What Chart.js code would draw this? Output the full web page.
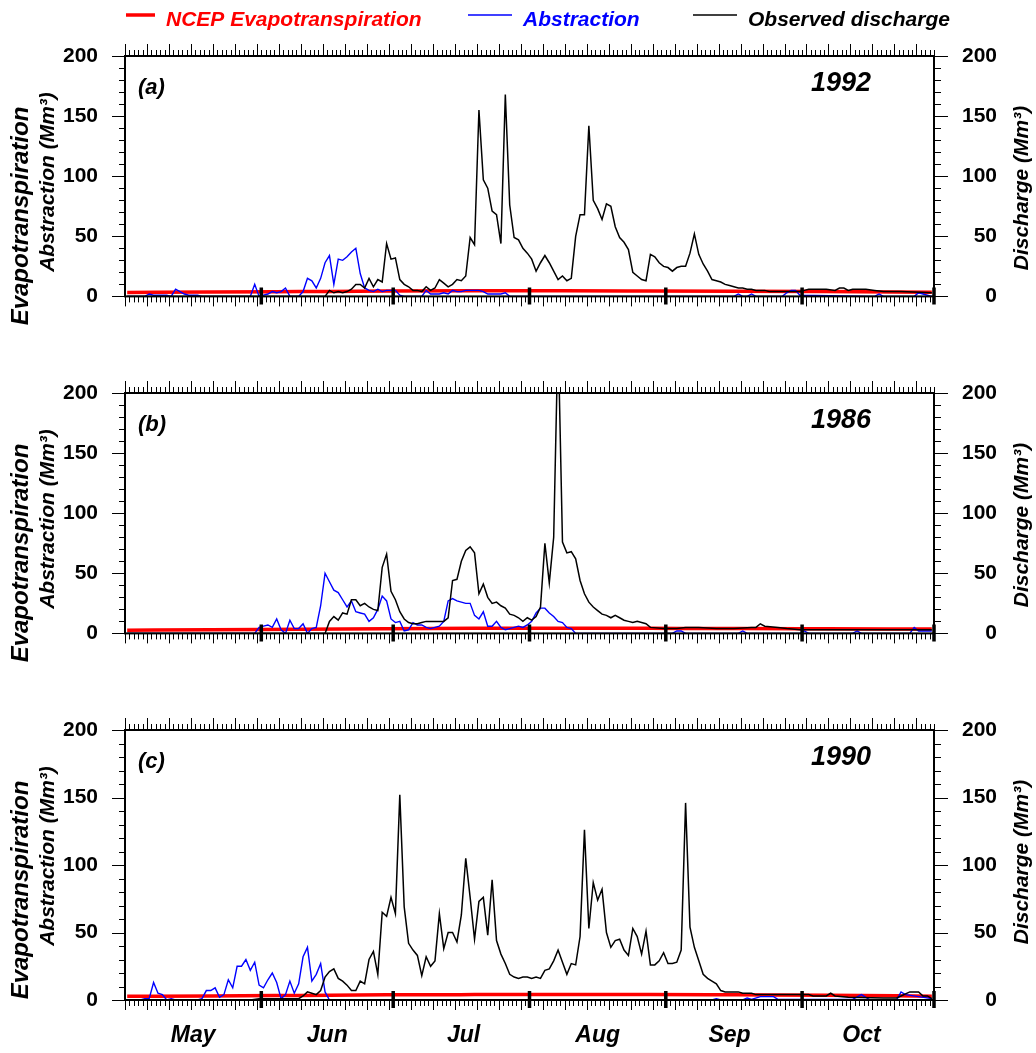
<!doctype html>
<html lang="en">
<head>
<meta charset="utf-8">
<title>Evapotranspiration, abstraction and observed discharge</title>
<style>
  body { margin: 0; background: #fff; }
  #page { position: relative; width: 1036px; height: 1053px; }
  #page canvas { position: absolute; left: 0; }
</style>
</head>
<body>
<div id="page">
  <canvas id="chartA" width="1036" height="337" style="top:0"></canvas>
  <canvas id="chartB" width="1036" height="337" style="top:337px"></canvas>
  <canvas id="chartC" width="1036" height="379" style="top:674px"></canvas>
</div>

<script src="https://cdn.jsdelivr.net/npm/chart.js@4.4.0/dist/chart.umd.min.js"></script>
<script>
// day 1 = 1 May, day 184 = 31 Oct
const monthNames = ['May', 'Jun', 'Jul', 'Aug', 'Sep', 'Oct'];
const monthLabelDays = [16, 46.5, 77.5, 108, 138, 168];
const monthEdgeDays = [31.5, 61.5, 92.5, 123.5, 154.5, 184.5];

// NCEP evapotranspiration (Mm3), read at a few days
const etDays = [1, 20, 40, 60, 80, 100, 120, 140, 160, 184];
const et1992 = [3.3, 3.6, 4.0, 4.4, 4.6, 4.6, 4.5, 4.3, 4.0, 3.4];
const et1986 = [2.7, 3.0, 3.5, 3.9, 4.2, 4.3, 4.2, 4.1, 3.9, 3.6];
const et1990 = [2.7, 3.0, 3.4, 3.8, 4.0, 4.1, 4.0, 3.8, 3.6, 2.8];

// [day, value] pairs
const abs1992 = [[1,0],[5,0],[6,2],[7,1],[10,1],[11,0],[12,6],[13,4],[14,2],[15,1],[17,1],[18,0],[29,0],[30,10],[31,0],[32,1],[33,2],[34,4],[35,3],[36,4],[37,7],[38,0],[40,0],[41,4],[42,15],[43,13],[44,7],[45,15],[46,28],[47,34],[48,10],[49,31],[50,30],[51,33],[52,37],[53,40],[54,19],[55,7],[56,5],[57,4],[58,6],[59,4],[60,5],[61,5],[62,5],[63,1],[64,0],[68,0],[69,5],[70,2],[71,2],[72,2],[73,3],[74,2],[75,5],[76,4],[77,4],[78,5],[79,5],[80,5],[81,5],[82,4],[83,2],[84,2],[85,2],[86,2],[87,3],[88,0],[139,0],[140,2],[141,0],[142,0],[143,2],[144,0],[150,0],[151,3],[152,5],[153,5],[154,1],[171,0],[172,2],[173,0],[180,0],[181,3],[182,2],[184,0]];
const flow1992 = [[1,0],[46,0],[47,5],[48,3],[49,4],[50,3],[51,4],[52,6],[53,10],[54,10],[55,7],[56,15],[57,8],[58,14],[59,12],[60,44],[61,31],[62,32],[63,14],[64,10],[65,8],[66,5],[67,5],[68,4],[69,8],[70,5],[71,7],[72,14],[73,11],[74,8],[75,10],[76,14],[77,13],[78,17],[79,49],[80,43],[81,155],[82,97],[83,90],[84,71],[85,68],[86,44],[87,168],[88,76],[89,49],[90,47],[91,40],[92,36],[93,31],[94,21],[95,28],[96,34],[97,28],[98,21],[99,14],[100,17],[101,13],[102,15],[103,50],[104,68],[105,68],[106,142],[107,80],[108,73],[109,64],[110,77],[111,75],[112,58],[113,49],[114,45],[115,39],[116,20],[117,17],[118,14],[119,13],[120,35],[121,33],[122,28],[123,25],[124,24],[125,21],[126,24],[127,25],[128,25],[129,36],[130,52],[131,35],[132,27],[133,21],[134,14],[135,13],[136,12],[137,10],[138,9],[139,8],[140,7],[141,7],[142,6],[143,6],[144,5],[145,5],[146,5],[147,4],[150,4],[154,4],[155,5],[156,6],[160,6],[162,5],[163,7],[164,7],[165,5],[166,6],[169,6],[171,5],[173,4],[177,4],[184,3]];

const abs1986 = [[1,0],[30,0],[31,5],[32,6],[33,7],[34,5],[35,12],[36,3],[37,0],[38,11],[39,4],[40,4],[41,8],[42,0],[43,4],[44,5],[45,23],[46,50],[47,43],[48,36],[49,34],[50,28],[51,22],[52,27],[53,18],[54,17],[55,16],[56,10],[57,13],[58,20],[59,31],[60,27],[61,12],[62,9],[63,10],[64,2],[65,3],[66,9],[67,7],[68,7],[69,5],[70,4],[71,5],[72,6],[73,10],[74,27],[75,29],[76,27],[77,26],[78,25],[79,25],[80,15],[81,12],[82,18],[83,6],[84,6],[85,10],[86,5],[87,3],[88,4],[89,5],[90,6],[91,5],[92,7],[93,10],[94,17],[95,21],[96,21],[97,17],[98,14],[99,10],[100,9],[101,5],[102,4],[103,0],[125,0],[126,2],[127,2],[128,0],[140,0],[141,2],[142,0],[154,0],[155,2],[156,0],[166,0],[167,2],[168,0],[179,0],[180,5],[181,2],[184,2]];
const flow1986 = [[1,0],[46,0],[47,10],[48,14],[49,11],[50,17],[51,16],[52,28],[53,28],[54,23],[55,25],[56,22],[57,20],[58,19],[59,55],[60,66],[61,35],[62,28],[63,18],[64,12],[65,9],[66,8],[67,8],[68,9],[69,10],[70,10],[71,10],[72,10],[73,10],[74,13],[75,44],[76,45],[77,60],[78,69],[79,72],[80,67],[81,33],[82,41],[83,30],[84,25],[85,26],[86,23],[87,21],[88,16],[89,15],[90,13],[91,10],[92,13],[93,11],[94,14],[95,22],[96,75],[97,42],[98,80],[99,250],[100,76],[101,67],[102,68],[103,62],[104,44],[105,33],[106,26],[107,22],[108,19],[109,16],[110,15],[111,13],[112,15],[113,13],[114,11],[115,10],[116,9],[117,10],[118,9],[119,8],[120,5],[123,4],[126,4],[128,5],[131,5],[135,4],[139,4],[143,5],[144,5],[145,8],[146,6],[149,5],[151,4],[154,3],[184,3]];

const abs1990 = [[1,0],[4,0],[5,1],[6,1],[7,13],[8,5],[9,4],[10,0],[11,1],[12,0],[17,0],[18,1],[19,7],[20,7],[21,9],[22,2],[23,4],[24,15],[25,9],[26,25],[27,25],[28,30],[29,22],[30,28],[31,11],[32,9],[33,15],[34,20],[35,13],[36,1],[37,4],[38,14],[39,5],[40,12],[41,32],[42,39],[43,14],[44,19],[45,27],[46,6],[47,0],[134,0],[135,1],[136,0],[141,0],[142,1.5],[143,0.5],[145,2.5],[148,2.5],[149,0.5],[166,0.5],[168,4],[170,0],[176,0],[177,6],[178,4],[181,2.5],[184,1]];
const flow1990 = [[1,0],[29,0],[31,1],[40,1],[41,3],[42,6],[43,5],[44,4],[45,7],[46,17],[47,21],[48,23],[49,16],[50,14],[51,11],[52,7],[53,7],[54,14],[55,12],[56,30],[57,36],[58,19],[59,65],[60,62],[61,76],[62,64],[63,152],[64,69],[65,42],[66,37],[67,33],[68,18],[69,32],[70,25],[71,29],[72,64],[73,38],[74,50],[75,50],[76,43],[77,63],[78,105],[79,76],[80,45],[81,73],[82,76],[83,48],[84,89],[85,44],[86,34],[87,27],[88,19],[89,17],[90,16],[91,17],[92,17],[93,16],[94,17],[95,16],[96,22],[97,23],[98,29],[99,37],[100,28],[101,19],[102,27],[103,26],[104,47],[105,126],[106,53],[107,87],[108,74],[109,82],[110,50],[111,39],[112,44],[113,45],[114,37],[115,33],[116,53],[117,47],[118,34],[119,51],[120,26],[121,26],[122,29],[123,35],[124,27],[125,27],[126,28],[127,37],[128,146],[129,54],[130,39],[131,29],[132,19],[133,16],[134,14],[135,12],[136,7],[137,6],[140,6],[141,5],[143,5],[144,4],[156,4],[157,3],[160,3],[161,5],[162,3],[165,2],[173,1.5],[176,1.5],[177,3],[179,6],[181,6],[182,3],[183,3],[184,1]];

const FONT = "'Liberation Sans', Arial, Helvetica, sans-serif";
const bi = size => `italic bold ${size}px ${FONT}`;
const toXY = pairs => pairs.map(([x, y]) => ({x, y}));

// axis frame, tick marks, panel texts and the shared legend
const frame = {
  id: 'frame',
  afterDatasetsDraw(chart, args, o) {
    const {ctx, chartArea: a, scales: {x, y}} = chart;
    ctx.save();
    ctx.strokeStyle = '#000';
    ctx.lineWidth = 1;
    ctx.beginPath();
    for (let k = 0; k <= 184; k++) {
      const px = Math.round(x.getPixelForValue(k + 0.5)) + 0.5;
      const big = k % 5 === 0;
      ctx.moveTo(px, a.top); ctx.lineTo(px, a.top - (big ? 12 : 6));
      ctx.moveTo(px, a.bottom); ctx.lineTo(px, a.bottom + (big ? 10 : 6));
    }
    for (let v = 0; v <= 200; v += 10) {
      const py = Math.round(y.getPixelForValue(v)) + 0.5;
      const big = v % 50 === 0;
      ctx.moveTo(a.left, py); ctx.lineTo(a.left - (big ? 13 : 6), py);
      ctx.moveTo(a.right, py); ctx.lineTo(a.right + (big ? 14 : 7), py);
    }
    ctx.stroke();
    ctx.lineWidth = 2;
    ctx.strokeRect(a.left, a.top, a.right - a.left, a.bottom - a.top);
    ctx.lineWidth = 3.5;
    ctx.beginPath();
    monthEdgeDays.forEach(d => {
      const px = x.getPixelForValue(d);
      ctx.moveTo(px, a.bottom - 9); ctx.lineTo(px, a.bottom + 8);
    });
    ctx.stroke();

    ctx.fillStyle = '#000';
    ctx.textBaseline = 'middle';
    ctx.font = bi(22);
    ctx.textAlign = 'left';
    ctx.fillText(o.tag, a.left + 13, a.top + 32);
    ctx.font = bi(27);
    ctx.textAlign = 'right';
    ctx.fillText(o.year, a.right - 63, a.top + 28);

    const vText = (t, cx, cy, size) => {
      ctx.save();
      ctx.translate(cx, cy);
      ctx.rotate(-Math.PI / 2);
      ctx.font = bi(size);
      ctx.textAlign = 'center';
      ctx.fillText(t, 0, 0);
      ctx.restore();
    };
    vText('Evapotranspiration', 21, a.top + 160, 24);
    vText('Abstraction (Mm\u00B3)', 48, a.top + 126, 21);
    vText('Discharge (Mm\u00B3)', 1022, a.top + 132, 21);

    if (o.legend) {
      const items = chart.data.datasets.slice().reverse();
      const lx = [126, 468, 693];
      const len = [29, 44, 44];
      ctx.font = bi(21);
      ctx.textAlign = 'left';
      ctx.textBaseline = 'alphabetic';
      items.forEach((ds, i) => {
        ctx.strokeStyle = ds.borderColor;
        ctx.lineWidth = ds.borderWidth;
        ctx.beginPath();
        ctx.moveTo(lx[i], 15); ctx.lineTo(lx[i] + len[i], 15);
        ctx.stroke();
        ctx.fillStyle = ds.borderColor;
        ctx.fillText(ds.label, lx[i] + len[i] + 11, 26);
      });
    }
    ctx.restore();
  }
};

const panels = [
  {id: 'chartA', tag: '(a)', year: '1992', et: et1992, abs: abs1992, flow: flow1992, legend: true, months: false, axisH: 11},
  {id: 'chartB', tag: '(b)', year: '1986', et: et1986, abs: abs1986, flow: flow1986, legend: false, months: false, axisH: 11},
  {id: 'chartC', tag: '(c)', year: '1990', et: et1990, abs: abs1990, flow: flow1990, legend: false, months: true, axisH: 53}
];

const yTickFont = {family: FONT, size: 21, weight: 'bold'};

panels.forEach(p => {
  new Chart(p.id, {
    type: 'line',
    data: {
      datasets: [
        {label: 'Observed discharge', data: toXY(p.flow), borderColor: '#000000', borderWidth: 1.5, yAxisID: 'y1'},
        {label: 'Abstraction', data: toXY(p.abs), borderColor: '#0000ff', borderWidth: 1.4},
        {label: 'NCEP Evapotranspiration', data: p.et.map((v, i) => ({x: etDays[i], y: v})),
         borderColor: '#ff0000', borderWidth: 3.5, cubicInterpolationMode: 'monotone'}
      ]
    },
    options: {
      responsive: false,
      animation: false,
      elements: {point: {radius: 0}, line: {tension: 0}},
      layout: {padding: {top: 56, left: 0, right: 39, bottom: 0}},
      plugins: {
        legend: {display: false},
        tooltip: {enabled: false},
        frame: {tag: p.tag, year: p.year, legend: p.legend}
      },
      scales: {
        x: {
          type: 'linear', min: 0.5, max: 184.5,
          grid: {display: false, drawTicks: false},
          border: {display: false},
          afterBuildTicks: s => { s.ticks = monthLabelDays.map(v => ({value: v})); },
          afterFit: s => { s.height = p.axisH; },
          ticks: {
            display: p.months, autoSkip: false, maxRotation: 0, padding: 22,
            color: '#000', font: {family: FONT, size: 23, weight: 'bold', style: 'italic'},
            callback: (v, i) => monthNames[i]
          }
        },
        y: {
          position: 'left', min: 0, max: 200,
          grid: {display: false, drawTicks: false},
          border: {display: false},
          afterFit: s => { s.width = 125; },
          ticks: {stepSize: 50, padding: 27, color: '#000', font: yTickFont}
        },
        y1: {
          position: 'right', min: 0, max: 200,
          grid: {display: false, drawTicks: false},
          border: {display: false},
          afterFit: s => { s.width = 63; },
          ticks: {stepSize: 50, padding: 28, crossAlign: 'far', color: '#000', font: yTickFont}
        }
      }
    },
    plugins: [frame]
  });
});
</script>
</body>
</html>
